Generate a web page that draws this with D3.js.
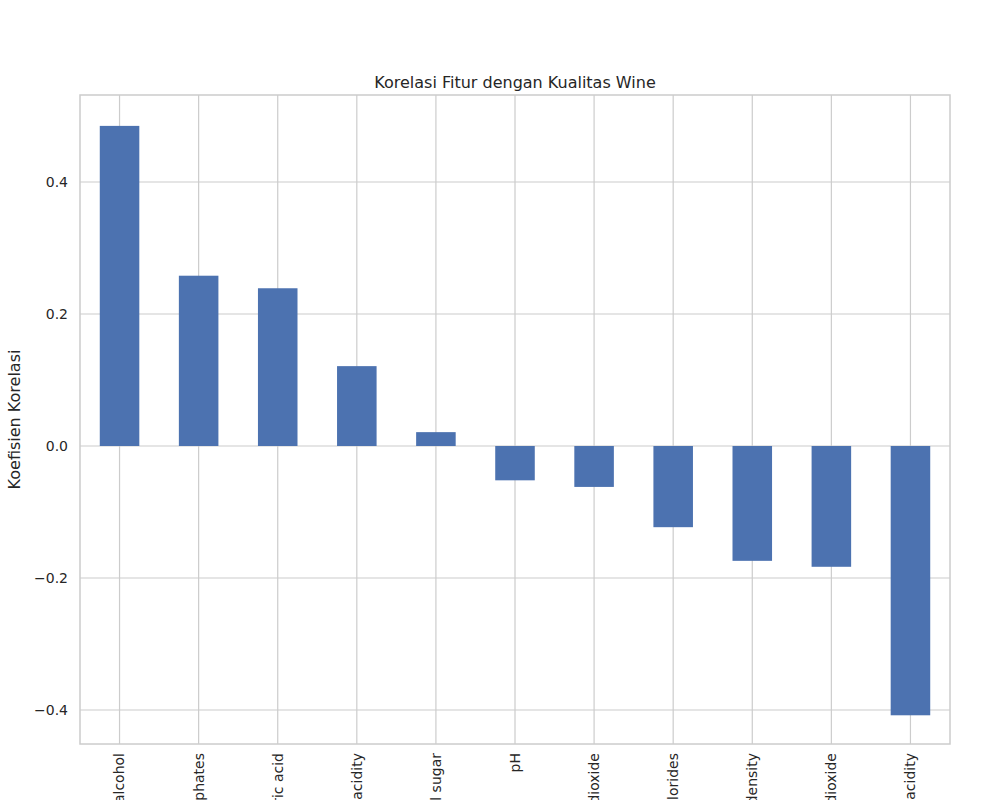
<!DOCTYPE html>
<html><head><meta charset="utf-8">
<script src="https://cdn.jsdelivr.net/npm/d3@7"></script>
<style>body{margin:0;background:#fff;overflow:hidden}</style>
</head><body>
<svg id="chart"></svg>
<script>
var features = ["alcohol", "sulphates", "citric acid", "fixed acidity", "residual sugar", "pH",
  "free sulfur dioxide", "chlorides", "density", "total sulfur dioxide", "volatile acidity"];
var correlations = [0.485, 0.258, 0.239, 0.121, 0.021, -0.052, -0.062, -0.123, -0.174, -0.183, -0.408];
var yTicks = [-0.4, -0.2, 0.0, 0.2, 0.4];

var width = 1000, height = 800;
var margin = {top: 95, right: 50, bottom: 56, left: 80};
var font = "DejaVu Sans, sans-serif";

var svg = d3.select("#chart").attr("width", width).attr("height", height);

var x = d3.scaleBand().domain(features)
  .range([margin.left, width - margin.right]).paddingInner(0.5).paddingOuter(0.25);
var y = d3.scaleLinear().domain([-0.4515, 0.5318])
  .range([height - margin.bottom, margin.top]);

// grid
svg.append("g").selectAll("line").data(yTicks).enter().append("line")
  .attr("x1", margin.left).attr("x2", width - margin.right)
  .attr("y1", d => y(d)).attr("y2", d => y(d))
  .attr("stroke", "#cccccc").attr("stroke-width", 1.2);
svg.append("g").selectAll("line").data(features).enter().append("line")
  .attr("x1", d => x(d) + x.bandwidth() / 2).attr("x2", d => x(d) + x.bandwidth() / 2)
  .attr("y1", margin.top).attr("y2", height - margin.bottom)
  .attr("stroke", "#cccccc").attr("stroke-width", 1.2);

// bars
svg.append("g").selectAll("rect").data(correlations).enter().append("rect")
  .attr("x", (d, i) => x(features[i]))
  .attr("width", x.bandwidth())
  .attr("y", d => y(Math.max(0, d)))
  .attr("height", d => Math.abs(y(d) - y(0)))
  .attr("fill", "#4c72b0");

// frame
svg.append("rect")
  .attr("x", margin.left).attr("y", margin.top)
  .attr("width", width - margin.left - margin.right)
  .attr("height", height - margin.top - margin.bottom)
  .attr("fill", "none").attr("stroke", "#cccccc").attr("stroke-width", 1.5);

// y tick labels
svg.append("g").selectAll("text").data(yTicks).enter().append("text")
  .attr("x", margin.left - 12).attr("y", d => y(d)).attr("dy", "0.35em")
  .attr("text-anchor", "end").attr("font-family", font).attr("font-size", 14)
  .attr("fill", "#262626")
  .text(d => d3.format(".1f")(d).replace("-", "\u2212"));

// x tick labels (rotated)
svg.append("g").selectAll("text").data(features).enter().append("text")
  .attr("transform", d => "translate(" + (x(d) + x.bandwidth() / 2) + "," + (height - margin.bottom + 9) + ") rotate(-90)")
  .attr("dy", "0.35em").attr("text-anchor", "end")
  .attr("font-family", font).attr("font-size", 14).attr("fill", "#262626")
  .text(d => d);

svg.append("text")
  .attr("x", (margin.left + width - margin.right) / 2).attr("y", 88)
  .attr("text-anchor", "middle").attr("font-family", font).attr("font-size", 16)
  .attr("fill", "#262626").text("Korelasi Fitur dengan Kualitas Wine");

svg.append("text")
  .attr("transform", "translate(20," + ((margin.top + height - margin.bottom) / 2) + ") rotate(-90)")
  .attr("text-anchor", "middle").attr("font-family", font).attr("font-size", 16)
  .attr("fill", "#262626").text("Koefisien Korelasi");
</script>
</body></html>
